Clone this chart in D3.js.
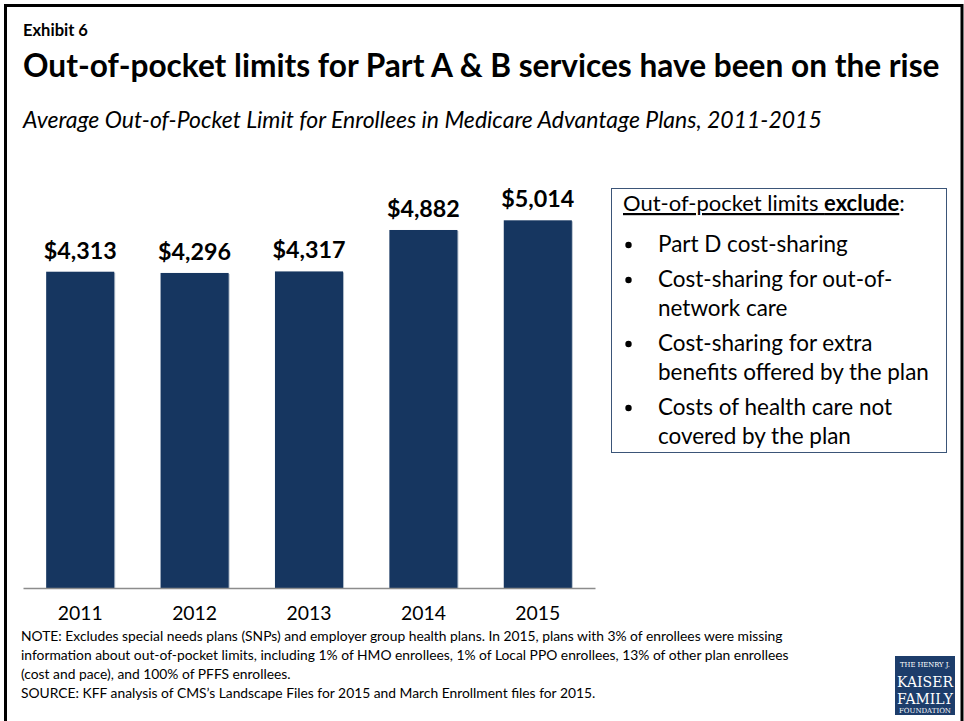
<!DOCTYPE html>
<html>
<head>
<meta charset="utf-8">
<script src="https://cdn.jsdelivr.net/npm/d3@7"></script>
<style>
  body { margin: 0; background: #fff; }
  svg { display: block; }
  text { font-family: Lato, "Open Sans", sans-serif; fill: #000; }
</style>
</head>
<body>
<div id="container"><svg></svg></div>
<script>
let width = 964;
let height = 721;

// data
let years = ["2011", "2012", "2013", "2014", "2015"];
let limits = [4313, 4296, 4317, 4882, 5014];

let legend_head = "Out-of-pocket limits ";
let legend_bold = "exclude";
let legend_items = [
    ["Part D cost-sharing"],
    ["Cost-sharing for out-of-", "network care"],
    ["Cost-sharing for extra", "benefits offered by the plan"],
    ["Costs of health care not", "covered by the plan"]
];

let note_lines = [
    "NOTE: Excludes special needs plans (SNPs) and employer group health plans. In 2015, plans with 3% of enrollees were missing",
    "information about out-of-pocket limits, including 1% of HMO enrollees, 1% of Local PPO enrollees, 13% of other plan enrollees",
    "(cost and pace), and 100% of PFFS enrollees.",
    "SOURCE: KFF analysis of CMS\u2019s Landscape Files for 2015 and March Enrollment files for 2015."
];

// resize a text so that it takes the given width
function fit(sel, w, start) {
    sel.style("font-size", start + "px");
    let len = sel.node().getComputedTextLength();
    let size = start * w / len;
    sel.style("font-size", size + "px");
    return size;
}

function draw_chart() {
    let svg = d3.select('#container')
        .select('svg')
        .attr('width', width)
        .attr('height', height);

    // frame
    svg.append("rect")
        .attr("x", 5.5).attr("y", 5.5)
        .attr("width", 956.5).attr("height", 740)
        .attr("fill", "none")
        .attr("stroke", "#000")
        .attr("stroke-width", 3);

    // headings
    let ex = svg.append("text").attr("x", 23).attr("y", 36)
        .style("font-weight", "bold").text("Exhibit 6");
    fit(ex, 65, 14);
    let title = svg.append("text").attr("x", 23).attr("y", 77)
        .style("font-weight", "bold")
        .text("Out-of-pocket limits for Part A & B services have been on the rise");
    fit(title, 917, 26);
    let sub = svg.append("text").attr("x", 23).attr("y", 128)
        .style("font-style", "italic")
        .text("Average Out-of-Pocket Limit for Enrollees in Medicare Advantage Plans, 2011-2015");
    fit(sub, 799, 18);

    // scales
    let x = d3.scaleBand()
        .domain(years)
        .range([23, 595])
        .paddingInner(0.405)
        .paddingOuter(0.2025);
    let y = d3.scaleLinear()
        .domain([0, 6000])
        .range([588, 148]);

    let bars = svg.append("g");
    // faint shadow on the bars
    bars.selectAll("rect.shadow")
        .data(limits)
        .join("rect")
        .attr("class", "shadow")
        .attr("x", (d, i) => x(years[i]) + 1)
        .attr("y", d => y(d) + 1)
        .attr("width", x.bandwidth())
        .attr("height", d => y(0) - y(d))
        .attr("fill", "#b4bfcc");
    bars.selectAll("rect.bar")
        .data(limits)
        .join("rect")
        .attr("class", "bar")
        .attr("x", (d, i) => x(years[i]))
        .attr("y", d => y(d))
        .attr("width", x.bandwidth())
        .attr("height", d => y(0) - y(d))
        .attr("fill", "#163660");

    // baseline
    let axis = svg.append("g")
        .attr("transform", "translate(0," + y(0) + ")")
        .call(d3.axisBottom(x).tickSize(0).tickPadding(0));
    axis.select(".domain").attr("stroke", "#8c8c8c").attr("stroke-width", 1.5);
    let ticks = axis.selectAll(".tick text")
        .attr("y", 32)
        .attr("dy", 0)
        .style("font-family", 'Lato, "Open Sans", sans-serif')
        .attr("fill", "#000");
    let ts = fit(d3.select(ticks.nodes()[4]), 45, 20);
    ticks.style("font-size", ts + "px");

    // value labels
    let fmt = d3.format("$,");
    let labels = svg.append("g").selectAll("text")
        .data(limits)
        .join("text")
        .attr("x", (d, i) => x(years[i]) + x.bandwidth() / 2)
        .attr("y", d => y(d) - 13)
        .attr("text-anchor", "middle")
        .style("font-weight", "bold")
        .text(d => fmt(d));
    let ls = fit(d3.select(labels.nodes()[0]), 73, 22);
    labels.style("font-size", ls + "px");

    // legend box
    let lg = svg.append("g");
    lg.append("rect")
        .attr("x", 611.5).attr("y", 188.5)
        .attr("width", 335).attr("height", 264)
        .attr("fill", "#fff")
        .attr("stroke", "#3b5578")
        .attr("stroke-width", 1);
    let head = lg.append("text").attr("x", 623).attr("y", 211);
    head.append("tspan").attr("text-decoration", "underline").text(legend_head);
    head.append("tspan").attr("text-decoration", "underline")
        .style("font-weight", "bold").text(legend_bold);
    head.append("tspan").text(":");
    fit(head, 282, 18);

    let rows = [];
    let yy = 252;
    legend_items.forEach(function (item) {
        item.forEach(function (line, j) {
            rows.push({text: line, y: yy, bullet: j == 0});
            yy += 29;
        });
        yy += 6;
    });
    let rt = lg.selectAll("text.row")
        .data(rows)
        .join("text")
        .attr("class", "row")
        .attr("x", 658)
        .attr("y", d => d.y)
        .text(d => d.text);
    let rs = fit(d3.select(rt.nodes()[4]), 271, 18);
    rt.style("font-size", rs + "px");
    lg.selectAll("circle.bul")
        .data(rows.filter(d => d.bullet))
        .join("circle")
        .attr("class", "bul")
        .attr("cx", 628.5)
        .attr("cy", d => d.y - 7)
        .attr("r", 3.2)
        .attr("fill", "#000");

    // notes
    let nt = svg.append("g").selectAll("text")
        .data(note_lines)
        .join("text")
        .attr("x", 21)
        .attr("y", (d, i) => 641 + i * 19)
        .text(d => d);
    let ns = fit(d3.select(nt.nodes()[0]), 762, 12);
    nt.style("font-size", ns + "px");

    // logo
    let logo = svg.append("g");
    logo.append("rect")
        .attr("x", 895).attr("y", 656)
        .attr("width", 60).attr("height", 59)
        .attr("fill", "#1d3d6b");
    let logo_lines = [
        {t: "THE HENRY J.", y: 667, w: 50, s: 7},
        {t: "KAISER", y: 687, w: 56, s: 16},
        {t: "FAMILY", y: 704, w: 56, s: 16},
        {t: "FOUNDATION", y: 713, w: 52, s: 6}
    ];
    logo_lines.forEach(function (l) {
        let t = logo.append("text")
            .attr("x", 925).attr("y", l.y)
            .attr("text-anchor", "middle")
            .style("font-family", '"DejaVu Serif", "Liberation Serif", serif')
            .style("fill", "#fff")
            .text(l.t);
        fit(t, l.w, l.s);
    });
}

draw_chart();
</script>
</body>
</html>
